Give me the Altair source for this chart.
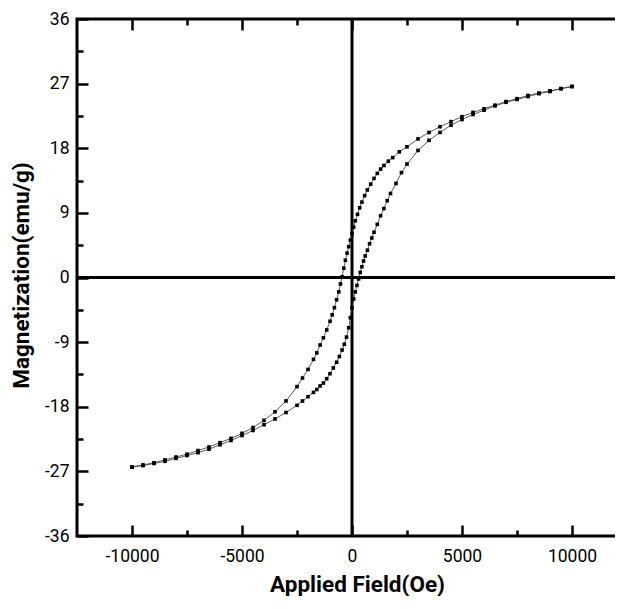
import altair as alt
import pandas as pd

# ---- data ----
H_DESC = [10000, 9500, 9000, 8500, 8000, 7500, 7000, 6500, 6000, 5500, 5000, 4500,
          4000, 3500, 3000, 2500, 2150, 1850, 1650, 1450, 1300, 1150, 1000, 850, 700,
          575, 450, 350, 250, 150, 75, 0, -75, -150, -225, -300, -375, -450, -525,
          -600, -700, -800, -900, -1000, -1150, -1300, -1450, -1600, -1750, -2000,
          -2250, -2500, -3000, -3500, -4000, -4500, -5000, -5500, -6000, -6500, -7000,
          -7500, -8000, -8500, -9000, -9500, -10000]
M_DESC = [26.6, 26.3, 26.0, 25.7, 25.35, 24.9, 24.5, 24.0, 23.5, 23.0, 22.4, 21.7,
          21.0, 20.2, 19.3, 18.2, 17.5, 16.7, 16.2, 15.6, 15.1, 14.5, 13.8, 13.0, 12.2,
          11.4, 10.5, 9.7, 8.8, 7.9, 7.0, 6.1, 5.2, 4.3, 3.4, 2.4, 1.3, 0.1, -0.9,
          -2.0, -3.1, -4.2, -5.2, -6.1, -7.3, -8.4, -9.4, -10.5, -11.4, -12.8,
          -14.0, -15.2, -17.2, -18.7, -19.9, -20.9, -21.7, -22.4, -23.0, -23.6, -24.1,
          -24.6, -25.0, -25.4, -25.8, -26.1, -26.4]

H_ASC = [-10000, -9500, -9000, -8500, -8000, -7500, -7000, -6500, -6000, -5500, -5000,
         -4500, -4000, -3500, -3000, -2500, -2250, -2000, -1750, -1600, -1450, -1300,
         -1150, -1000, -850, -700, -575, -450, -350, -250, -150, -75, 0, 75, 150, 225,
         300, 375, 450, 525, 600, 700, 800, 900, 1000, 1150, 1300, 1450, 1600, 1750,
         2000, 2250, 2500, 3000, 3500, 4000, 4500, 5000, 5500, 6000, 6500, 7000, 7500,
         8000, 8500, 9000, 9500, 10000]
M_ASC = [-26.4, -26.2, -25.9, -25.6, -25.2, -24.8, -24.4, -23.9, -23.3, -22.7, -22.0,
         -21.3, -20.5, -19.7, -18.8, -17.8, -17.2, -16.6, -16.0, -15.6, -15.1, -14.7,
         -14.1, -13.4, -12.6, -11.8, -11.0, -10.1, -9.3, -8.3, -7.0, -5.6, -4.2, -3.0,
         -2.0, -1.1, -0.2, 0.7, 1.5, 2.3, 3.0, 3.8, 4.7, 5.5, 6.3, 7.4, 8.6, 9.6, 10.7,
         11.7, 13.1, 14.6, 15.8, 17.7, 19.1, 20.2, 21.2, 22.0, 22.7, 23.3, 23.9, 24.4,
         24.8, 25.2, 25.6, 25.9, 26.3, 26.6]

X_MAJOR = [-10000, -5000, 0, 5000, 10000]
X_MINOR = [-7500, -2500, 2500, 7500]
Y_MAJOR = [-36, -27, -18, -9, 0, 9, 18, 27, 36]
Y_MINOR = [-31.5, -22.5, -13.5, -4.5, 4.5, 13.5, 22.5, 31.5]
X_TITLE = "Applied Field(Oe)"
Y_TITLE = "Magnetization(emu/g)"
X_DOMAIN = [-12500, 11954.5]   # right part of the frame lies beyond the picture
X_FRAME = [-12500, 12500]
Y_DOMAIN = [-36, 36]
ZERO = [0]

rows = []
for i, (h, m) in enumerate(zip(H_DESC, M_DESC)):
    rows.append({"H": h, "M": m, "branch": "desc", "seq": i})
for i, (h, m) in enumerate(zip(H_ASC, M_ASC)):
    rows.append({"H": h, "M": m, "branch": "asc", "seq": i})
df = pd.DataFrame(rows)
zero_df = pd.DataFrame({"z": ZERO})
one_df = pd.DataFrame({"a": [0]})

FONT = "Roboto, Liberation Sans, sans-serif"
xscale = alt.Scale(domain=X_DOMAIN, nice=False, zero=False)
yscale = alt.Scale(domain=Y_DOMAIN, nice=False, zero=False)
LBL = "datum.value + ''"

ax_bottom = alt.Axis(orient="bottom", values=X_MAJOR, offset=-11, tickSize=11, tickWidth=2.5,
                     tickColor="black", domain=False, grid=False, labelExpr=LBL,
                     labelFont=FONT, labelFontSize=17.5, labelColor="black", labelPadding=11,
                     labelFlush=False, labelOverlap=False,
                     title=X_TITLE, titleFont=FONT, titleFontSize=22.5, titleFontWeight="bold",
                     titleColor="black", titleX=280, titleY=66, titleAlign="center",
                     titleBaseline="alphabetic")
ax_left = alt.Axis(orient="left", values=Y_MAJOR, offset=-11, tickSize=11, tickWidth=2.5,
                   tickColor="black", domain=False, grid=False, labelExpr=LBL,
                   labelFont=FONT, labelFontSize=17.5, labelColor="black", labelPadding=8,
                   labelFlush=False, labelOverlap=False,
                   title=Y_TITLE, titleFont=FONT, titleFontSize=22.5, titleFontWeight="bold",
                   titleColor="black", titleX=-60, titleY=256, titleAngle=270,
                   titleAlign="center", titleBaseline="alphabetic")
ax_bottom_minor = alt.Axis(orient="bottom", values=X_MINOR, offset=-6, tickSize=6, tickWidth=2.5,
                           tickColor="black", domain=False, grid=False, labels=False, title=None)
ax_left_minor = alt.Axis(orient="left", values=Y_MINOR, offset=-6, tickSize=6, tickWidth=2.5,
                         tickColor="black", domain=False, grid=False, labels=False, title=None)
ax_top = alt.Axis(orient="top", values=X_MAJOR, offset=-11, tickSize=11, tickWidth=2.5,
                  tickColor="black", domain=False, grid=False, labels=False, title=None)
ax_top_minor = alt.Axis(orient="top", values=X_MINOR, offset=-6, tickSize=6, tickWidth=2.5,
                        tickColor="black", domain=False, grid=False, labels=False, title=None)

X = lambda ax: alt.X("H:Q", scale=xscale, axis=ax)
Y = lambda ax: alt.Y("M:Q", scale=yscale, axis=ax)

def ghost(axx, axy):
    return alt.Chart(df).mark_point(opacity=0).encode(x=X(axx), y=Y(axy))

frame = alt.Chart(one_df).mark_rect(filled=False, stroke="black", strokeWidth=3).encode(
    x=alt.XDatum(X_FRAME[0], type="quantitative", scale=xscale, axis=ax_bottom),
    x2=alt.X2Datum(X_FRAME[1]),
    y=alt.YDatum(Y_DOMAIN[0], type="quantitative", scale=yscale, axis=ax_left),
    y2=alt.Y2Datum(Y_DOMAIN[1]),
)
vzero = alt.Chart(zero_df).mark_rule(color="black", strokeWidth=3).encode(
    x=alt.X("z:Q", scale=xscale, axis=ax_bottom))
hzero = alt.Chart(zero_df).mark_rule(color="black", strokeWidth=3).encode(
    y=alt.Y("z:Q", scale=yscale, axis=ax_left))
line = alt.Chart(df).mark_line(color="#333333", strokeWidth=0.8).encode(
    x=X(ax_bottom), y=Y(ax_left), detail="branch:N", order="seq:Q")
pts = alt.Chart(df).mark_square(size=13, color="black", opacity=1).encode(
    x=X(ax_bottom), y=Y(ax_left))

main = alt.layer(frame, vzero, hzero, line, pts)

chart = alt.layer(
    ghost(ax_bottom_minor, ax_left_minor),
    ghost(ax_top, None),
    ghost(ax_top_minor, None),
    main,
).resolve_scale(x="independent", y="independent").properties(
    width=538, height=517,
    padding={"left": 69, "top": 11, "right": 0, "bottom": 60},
    autosize=alt.AutoSizeParams(type="none"),
).configure_view(stroke="transparent")

chart.save("out.html", embed_options={"renderer": "svg", "actions": False})
